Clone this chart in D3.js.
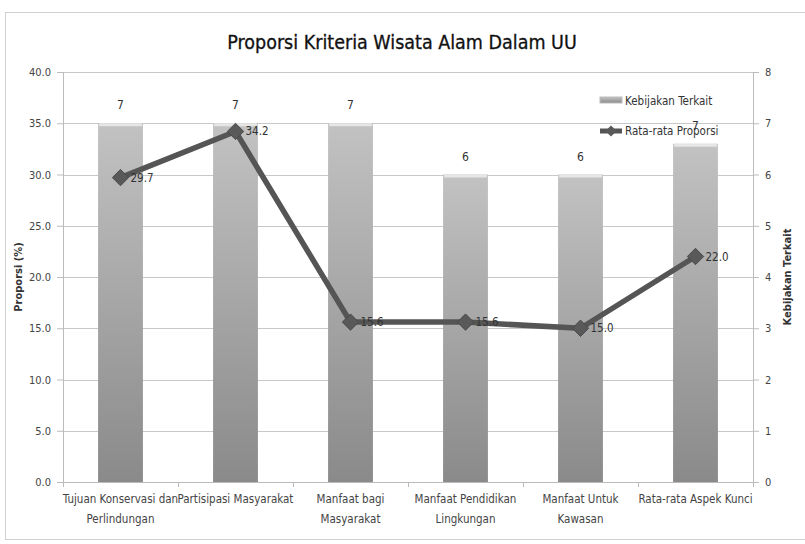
<!DOCTYPE html>
<html>
<head>
<meta charset="utf-8">
<script src="https://cdn.jsdelivr.net/npm/d3@7"></script>
<style>
  body { margin: 0; background: #fff; }
  svg text { font-family: "Liberation Sans Narrow", "DejaVu Sans Condensed", sans-serif; fill: #333; }
</style>
</head>
<body>
<svg class="chart" width="805" height="544"></svg>
<script>
// data
var categories = [
  ["Tujuan Konservasi dan", "Perlindungan"],
  ["Partisipasi Masyarakat"],
  ["Manfaat bagi", "Masyarakat"],
  ["Manfaat Pendidikan", "Lingkungan"],
  ["Manfaat Untuk", "Kawasan"],
  ["Rata-rata Aspek Kunci"]
];
var kebijakan = [7, 7, 7, 6, 6, 6.6];
var proporsi = [29.7, 34.2, 15.6, 15.6, 15.0, 22.0];
var leftTicks = [0, 5, 10, 15, 20, 25, 30, 35, 40];
var rightTicks = [0, 1, 2, 3, 4, 5, 6, 7, 8];

var svg = d3.select("svg.chart"),
    margin = {top: 72, right: 52, bottom: 62, left: 63},
    width = 805 - margin.left - margin.right,
    height = 544 - margin.top - margin.bottom;

// outer frame
svg.append("rect")
  .attr("x", 5.5).attr("y", 12.5)
  .attr("width", 805).attr("height", 527)
  .attr("fill", "#fff").attr("stroke", "#d0d0d0");

svg.append("text")
  .attr("x", 402).attr("y", 49)
  .attr("text-anchor", "middle")
  .style("font-size", "19.5px")
  .style("fill", "#111")
  .style("stroke", "#111").style("stroke-width", 0.3)
  .text("Proporsi Kriteria Wisata Alam Dalam UU");

var defs = svg.append("defs");
var grad = defs.append("linearGradient").attr("id", "barGrad")
  .attr("x1", 0).attr("y1", 0).attr("x2", 0).attr("y2", 1);
grad.append("stop").attr("offset", "0%").attr("stop-color", "#c2c2c2");
grad.append("stop").attr("offset", "100%").attr("stop-color", "#8a8a8a");

var g = svg.append("g").attr("transform", "translate(" + margin.left + "," + margin.top + ")");

var x = d3.scaleBand().domain(d3.range(categories.length)).range([0, width]).paddingInner(0.61).paddingOuter(0.305);
var xc = d3.scaleBand().domain(d3.range(categories.length)).range([0, width]);
var yL = d3.scaleLinear().domain([0, 40]).range([height, 0]);
var yR = d3.scaleLinear().domain([0, 8]).range([height, 0]);

// gridlines
g.append("g").selectAll("line").data(leftTicks.slice(1)).enter().append("line")
  .attr("x1", 0).attr("x2", width)
  .attr("y1", function(d) { return Math.round(yL(d)) + 0.5; })
  .attr("y2", function(d) { return Math.round(yL(d)) + 0.5; })
  .attr("stroke", "#c8c8c8");

// left axis
var axL = g.append("g").call(d3.axisLeft(yL).tickValues(leftTicks).tickFormat(d3.format(".1f")).tickSize(6).tickPadding(6));
axL.selectAll("line, path").attr("stroke", "#bbb");
axL.selectAll("text").style("font-size", "11px").style("fill", "#444");

// right axis
var axR = g.append("g").attr("transform", "translate(" + width + ",0)")
  .call(d3.axisRight(yR).tickValues(rightTicks).tickSize(6).tickPadding(6));
axR.selectAll("line, path").attr("stroke", "#bbb");
axR.selectAll("text").style("font-size", "11px").style("fill", "#444");

// bars
g.selectAll("rect.bar").data(kebijakan).enter().append("rect")
  .attr("class", "bar")
  .attr("x", function(d, i) { return x(i); })
  .attr("y", function(d) { return yR(d); })
  .attr("width", x.bandwidth())
  .attr("height", function(d) { return height - yR(d); })
  .attr("fill", "url(#barGrad)");

// light cap on top of each bar
g.selectAll("rect.cap").data(kebijakan).enter().append("rect")
  .attr("class", "cap")
  .attr("x", function(d, i) { return x(i) + 1; })
  .attr("y", function(d) { return yR(d); })
  .attr("width", x.bandwidth() - 2)
  .attr("height", 3)
  .attr("fill", "#e6e6e6");

g.selectAll("text.barlab").data(kebijakan).enter().append("text")
  .attr("class", "barlab")
  .attr("x", function(d, i) { return x(i) + x.bandwidth() / 2; })
  .attr("y", function(d) { return yR(d) - 14; })
  .attr("text-anchor", "middle")
  .style("font-size", "12px")
  .text(function(d) { return d3.format(".0f")(d); });

// x axis baseline and category ticks
var axB = g.append("g").attr("transform", "translate(0," + height + ")");
axB.append("line").attr("x1", 0).attr("x2", width).attr("y1", 0.5).attr("y2", 0.5).attr("stroke", "#bbb");
axB.selectAll("line.tk").data(d3.range(categories.length + 1)).enter().append("line")
  .attr("class", "tk")
  .attr("x1", function(i) { return Math.round(i * xc.step()) + 0.5; })
  .attr("x2", function(i) { return Math.round(i * xc.step()) + 0.5; })
  .attr("y1", 0).attr("y2", 5).attr("stroke", "#bbb");

var xl = axB.selectAll("text.cat").data(categories).enter().append("text")
  .attr("class", "cat")
  .attr("text-anchor", "middle")
  .style("font-size", "11.5px")
  .style("fill", "#444");
xl.selectAll("tspan").data(function(d, i) { return d.map(function(s) { return {s: s, i: i}; }); })
  .enter().append("tspan")
  .attr("x", function(d) { return xc(d.i) + xc.bandwidth() / 2; })
  .attr("y", function(d, j) { return 21 + j * 20; })
  .text(function(d) { return d.s; });

// line series
var line = d3.line()
  .x(function(d, i) { return xc(i) + xc.bandwidth() / 2; })
  .y(function(d) { return yL(d); });

g.append("path")
  .datum(proporsi)
  .attr("d", line)
  .attr("fill", "none")
  .attr("stroke", "#555")
  .attr("stroke-width", 5.5)
  .attr("stroke-linejoin", "round");

g.selectAll("path.mark").data(proporsi).enter().append("path")
  .attr("class", "mark")
  .attr("d", d3.symbol().type(d3.symbolDiamond2).size(170))
  .attr("transform", function(d, i) { return "translate(" + (xc(i) + xc.bandwidth() / 2) + "," + yL(d) + ")"; })
  .attr("fill", "#595959")
  .attr("stroke", "#4a4a4a");

g.selectAll("text.linelab").data(proporsi).enter().append("text")
  .attr("class", "linelab")
  .attr("x", function(d, i) { return xc(i) + xc.bandwidth() / 2 + 10; })
  .attr("y", function(d) { return yL(d) + 4; })
  .style("font-size", "11.5px")
  .text(function(d) { return d3.format(".1f")(d); });

// axis titles
svg.append("text")
  .attr("transform", "translate(22," + (margin.top + height / 2) + ") rotate(-90)")
  .attr("text-anchor", "middle")
  .style("font-size", "11px").style("font-weight", "bold")
  .text("Proporsi (%)");

svg.append("text")
  .attr("transform", "translate(791," + (margin.top + height / 2) + ") rotate(-90)")
  .attr("text-anchor", "middle")
  .style("font-size", "11px").style("font-weight", "bold")
  .text("Kebijakan Terkait");

// legend
var leg = svg.append("g").attr("transform", "translate(600,101)");
leg.append("rect").attr("x", 0).attr("y", -4).attr("width", 22).attr("height", 6)
  .attr("fill", "url(#barGrad)").attr("stroke", "#bbb");
leg.append("text").attr("x", 25).attr("y", 4).style("font-size", "11.5px").text("Kebijakan Terkait");
leg.append("line").attr("x1", 0).attr("x2", 22).attr("y1", 30).attr("y2", 30)
  .attr("stroke", "#555").attr("stroke-width", 5);
leg.append("path").attr("d", d3.symbol().type(d3.symbolDiamond2).size(80))
  .attr("transform", "translate(11,30)").attr("fill", "#595959");
leg.append("text").attr("x", 25).attr("y", 34).style("font-size", "11.5px").text("Rata-rata Proporsi");
</script>
</body>
</html>
